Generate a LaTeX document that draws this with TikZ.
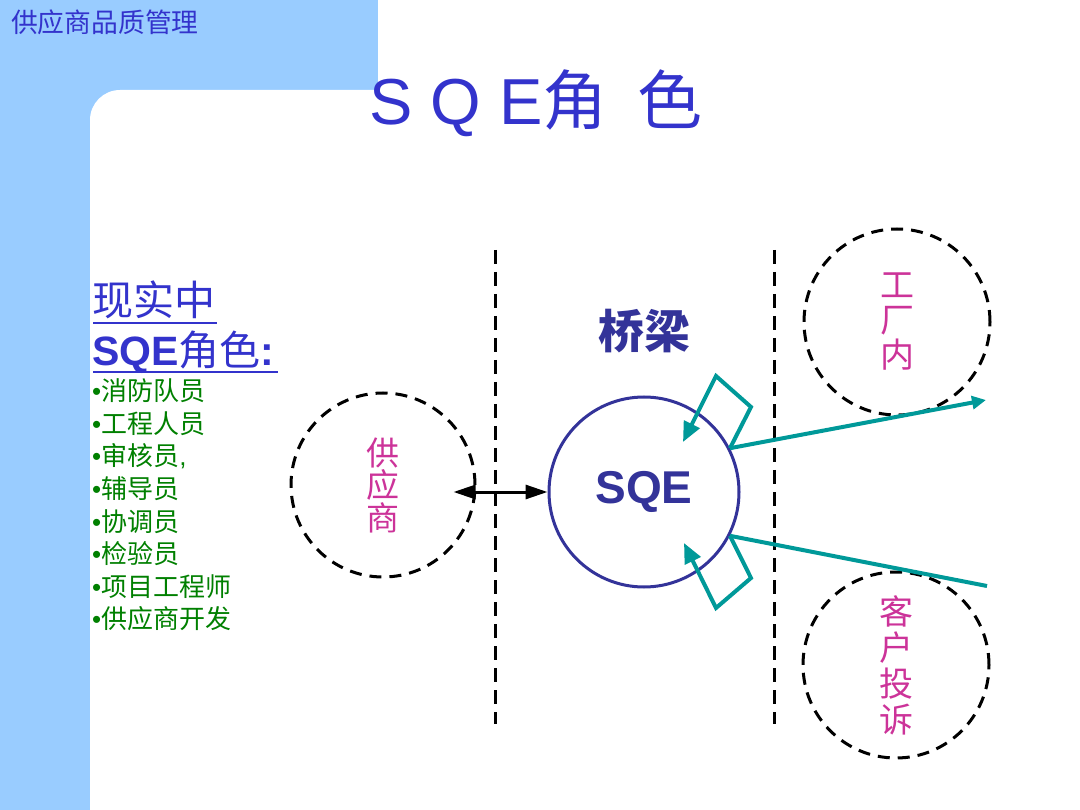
\documentclass[tikz,border=0pt]{standalone}
\usepackage{fontspec}
\setmainfont{Liberation Sans}
\newfontfamily\cjk{Noto Sans CJK SC}
\usetikzlibrary{arrows.meta}
\definecolor{bgblue}{HTML}{99CCFF}
\definecolor{titleblue}{HTML}{3333CC}
\definecolor{navy}{HTML}{333399}
\definecolor{rolegreen}{HTML}{008000}
\definecolor{mag}{HTML}{CC3399}
\definecolor{tealc}{HTML}{009999}
\begin{document}
\begin{tikzpicture}[x=1pt,y=-1pt,
  dashcirc/.style={circle, draw=black, line width=3pt, dash pattern=on 12pt off 8pt,
    minimum size=186pt, inner sep=0pt, align=center, text=mag},
  divider/.style={line width=3pt, dash pattern=on 14pt off 8pt},
  tealline/.style={draw=tealc, line width=4pt, line join=miter},
  tealtip/.style={-{Triangle[length=20pt,width=17pt]}},
  biarrow/.style={line width=3pt, {Triangle[length=22pt,width=14pt]}-{Triangle[length=22pt,width=14pt]}},
  uline/.style={draw=titleblue, line width=2pt}
]
\useasboundingbox (0,0) rectangle (1080,810);
% background
\fill[white] (0,0) rectangle (1080,810);
\fill[bgblue] (0,0) rectangle (378,810);
\fill[white, rounded corners=30pt] (90,90) rectangle (1110,840);

% header and title
\node[anchor=west, inner sep=0pt, text=titleblue, font=\cjk\fontsize{26.8}{30}\selectfont] (hdr) at (11,22) {供应商品质管理};
\node[anchor=base west, inner sep=0pt, text=titleblue, font=\fontsize{65}{70}\selectfont] (title) at (369,125) {S Q E{\cjk 角}\hspace{30pt}{\cjk 色}};

% left text
\node[anchor=base west, inner sep=0pt, text=titleblue, font=\cjk\fontsize{41}{48}\selectfont] (h1) at (92,316) {现实中};
\node[anchor=base west, inner sep=0pt, text=titleblue, font=\fontsize{41}{48}\selectfont] (h2) at (92,366) {\textbf{SQE}{\cjk 角色}\textbf{:}};
\draw[uline] (93,323) -- (217,323);
\draw[uline] (93,372) -- (278,372);
\node[anchor=west, inner sep=0pt, align=left, text=rolegreen, font=\fontsize{26}{32.6}\selectfont] (roles) at (92,505) {%
•{\cjk 消防队员}\\
•{\cjk 工程人员}\\
•{\cjk 审核员},\\
•{\cjk 辅导员}\\
•{\cjk 协调员}\\
•{\cjk 检验员}\\
•{\cjk 项目工程师}\\
•{\cjk 供应商开发}};

% dividers
\coordinate (d1t) at (495,250); \coordinate (d1b) at (495,724);
\coordinate (d2t) at (774,250); \coordinate (d2b) at (774,724);
\draw[divider] (d1t) -- (d1b);
\draw[divider] (d2t) -- (d2b);

% circles
\node[dashcirc, minimum size=184pt, font=\cjk\fontsize{33}{32.5}\selectfont] (sup) at (383,485) {供\\应\\商};
\node[dashcirc, font=\cjk\fontsize{34}{35}\selectfont] (fac) at (897,322) {工\\厂\\内};
\node[dashcirc, font=\cjk\fontsize{34}{36}\selectfont] (cus) at (896,665) {客\\户\\投\\诉};
\node[circle, draw=navy, line width=3pt, minimum size=190pt, inner sep=0pt, text=navy,
  font=\bfseries\fontsize{46}{50}\selectfont] (sqe) at (644,492) {SQE};
\node[inner sep=0pt, text=navy, font=\cjk\bfseries\fontsize{46}{50}\selectfont] (bridge) at (644,331) {桥梁};

% double arrow
\coordinate (supR) at ([xshift=-23pt]sup.east);
\draw[biarrow] (supR |- sqe.west) -- (sqe.west);

% teal arrows
\coordinate (outA) at (986,400);
\coordinate (outB) at (987,586);
\coordinate (a1) at (751,407); \coordinate (a2) at (716,376); \coordinate (a3) at (683,442);
\coordinate (b1) at (751,578); \coordinate (b2) at (716,608); \coordinate (b3) at (684,543);
\draw[tealline, -{Triangle[length=14pt,width=13pt]}] (sqe.27) -- (outA);
\draw[tealline] (sqe.-27) -- (outB);
\draw[tealline, tealtip] (sqe.27) -- (a1) -- (a2) -- (a3);
\draw[tealline, tealtip] (sqe.-27) -- (b1) -- (b2) -- (b3);
\end{tikzpicture}
\end{document}
